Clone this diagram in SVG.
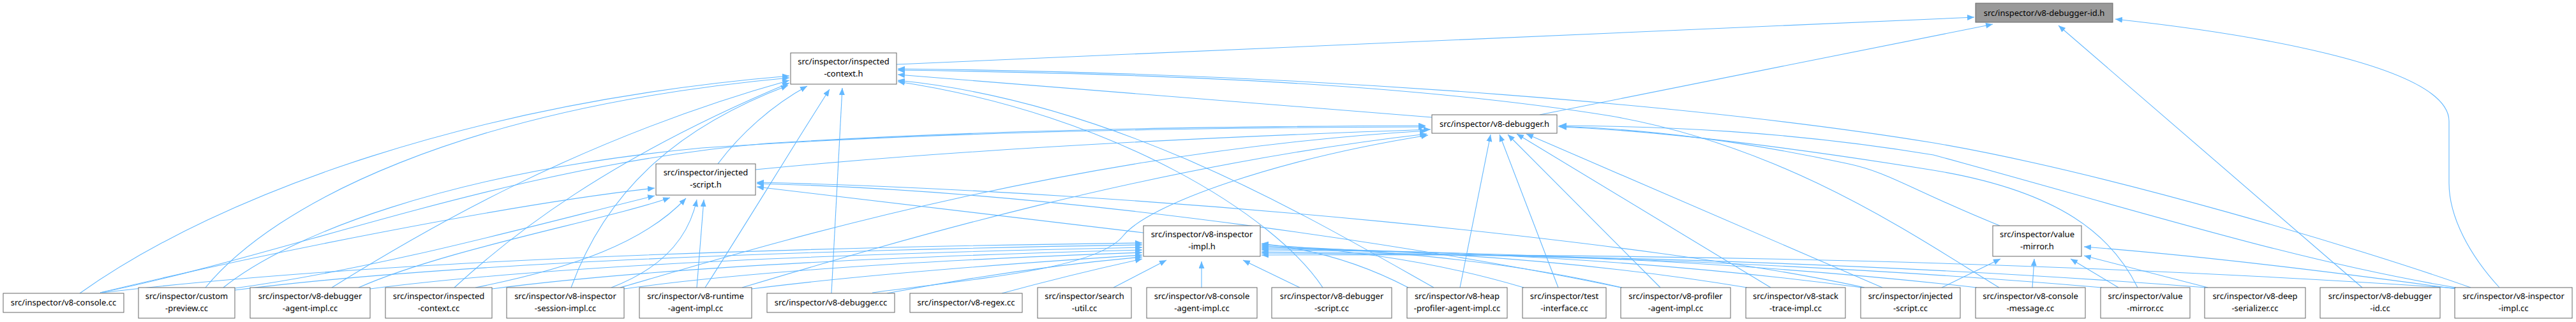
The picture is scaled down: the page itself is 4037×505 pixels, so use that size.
<svg xmlns="http://www.w3.org/2000/svg" width="4037" height="505" viewBox="0 0 4037 505">
<defs>
<marker id="a" markerWidth="12" markerHeight="10" refX="11" refY="4.5" orient="auto" markerUnits="userSpaceOnUse"><path d="M0,0 L11,4.5 L0,9 z" fill="#63b8ff"/></marker>
<style>
.n rect{fill:#fff;stroke:#666;stroke-width:1}
.n.root rect{fill:#999}
.n text{font-family:"Noto Sans","Open Sans",sans-serif;font-size:13px;text-anchor:middle;fill:#000}
.e path{fill:none;stroke:#63b8ff;stroke-width:1.1;marker-end:url(#a)}
</style>
</defs>
<rect width="4037" height="505" fill="#fff"/>
<g id="edges" class="e">
<path d="M1405,101 L3094,27"/>
<path d="M2413,180 L3123,38"/>
<path d="M3702,451 L3226,40"/>
<path d="M3917,451 C3870,400 3838,340 3838,287 L3838,190 C3838,100 3500,50 3315,30"/>
<path d="M2244,184 L1407,117"/>
<path d="M1125,257 C1160,210 1210,165 1265,135"/>
<path d="M1184,266 Q1600,225 2242,203"/>
<path d="M1792,365 L1186,293"/>
<path d="M3134,354 C3000,300 2960,270 2897,257 C2750,225 2600,203 2442,198"/>
<path d="M125,460 C350,300 750,160 1237,119"/>
<path d="M157,459 C450,400 800,260 1200,225 C1600,200 2000,198 2234,197"/>
<path d="M160,459 Q700,395 1790,381"/>
<path d="M157,459 C400,400 800,320 1026,295"/>
<path d="M322,451 C430,320 720,170 1237,122"/>
<path d="M350,451 C450,370 700,270 1100,232 C1500,205 1900,200 2234,199"/>
<path d="M368,452 C600,420 850,350 1026,307"/>
<path d="M368,455 Q800,400 1790,384"/>
<path d="M520,451 C650,370 900,220 1237,126"/>
<path d="M562,451 C700,390 950,345 1050,310"/>
<path d="M580,453 Q950,405 1790,388"/>
<path d="M712,451 C800,370 950,250 1237,130"/>
<path d="M745,451 C900,420 1010,380 1075,311"/>
<path d="M771,453 Q1100,410 1790,392"/>
<path d="M895,451 C950,300 1060,200 1235,134"/>
<path d="M958,451 C1040,420 1080,370 1092,313"/>
<path d="M972,451 C1150,400 1650,240 2236,205"/>
<path d="M978,453 Q1250,415 1790,396"/>
<path d="M1092,451 L1103,313"/>
<path d="M1105,451 C1170,350 1230,250 1300,140"/>
<path d="M1163,451 C1400,380 1800,260 2236,210"/>
<path d="M1178,453 Q1400,425 1790,400"/>
<path d="M1303,460 L1320,138"/>
<path d="M1367,459 C1550,435 1720,420 1760,370 C1800,320 2000,250 2238,212"/>
<path d="M1390,460 Q1600,420 1790,403"/>
<path d="M1570,460 Q1680,430 1790,406"/>
<path d="M1745,451 L1828,408"/>
<path d="M1883,451 L1883,410"/>
<path d="M2037,451 L1948,408"/>
<path d="M2073,451 C2000,340 1750,180 1407,128"/>
<path d="M2247,451 C2050,340 1750,160 1407,126"/>
<path d="M2288,451 L2336,211"/>
<path d="M2207,451 Q2100,395 1977,382"/>
<path d="M2442,451 L2350,211"/>
<path d="M2388,451 Q2200,395 1977,384"/>
<path d="M2602,451 L2363,211"/>
<path d="M2542,451 Q2300,395 1977,386"/>
<path d="M2540,451 C2300,400 1700,300 1186,288"/>
<path d="M2775,451 L2377,210"/>
<path d="M2738,451 Q2400,395 1977,388"/>
<path d="M2918,451 Q2500,395 1977,390"/>
<path d="M2922,451 C2600,380 1800,300 1186,286"/>
<path d="M2950,451 L2392,210"/>
<path d="M3043,451 L3135,406"/>
<path d="M3133,451 C3000,370 2800,230 2525,182 C2200,130 1800,115 1407,110"/>
<path d="M3098,451 Q2600,395 1977,392"/>
<path d="M3185,451 L3188,406"/>
<path d="M3350,451 C3310,370 3230,300 3030,267 C2800,230 2600,205 2444,199"/>
<path d="M3294,451 Q2700,400 1977,395"/>
<path d="M3320,451 L3245,406"/>
<path d="M3457,451 Q2800,400 1977,397"/>
<path d="M3460,451 L3266,401"/>
<path d="M3872,451 C3700,390 3300,270 3030,224 C2700,170 2100,115 1407,108"/>
<path d="M3849,451 C3600,410 3350,330 3030,243 C2800,205 2600,198 2444,197"/>
<path d="M3849,452 Q3000,395 1977,400"/>
<path d="M3849,453 Q3500,405 3266,387"/>
</g>
<g id="n0" class="n root"><rect x="3096" y="5" width="215" height="30"/><text x="3203.5" y="25">src/inspector/v8-debugger-id.h</text></g>
<g id="n1" class="n"><rect x="1239" y="83" width="166" height="49"/><text x="1322" y="101">src/inspector/inspected</text><text x="1322" y="120">-context.h</text></g>
<g id="n2" class="n"><rect x="2244" y="180" width="196" height="29"/><text x="2342" y="199">src/inspector/v8-debugger.h</text></g>
<g id="n3" class="n"><rect x="1028" y="257" width="156" height="49"/><text x="1106" y="275">src/inspector/injected</text><text x="1106" y="294">-script.h</text></g>
<g id="n4" class="n"><rect x="1792" y="354" width="183" height="48"/><text x="1883.5" y="372">src/inspector/v8-inspector</text><text x="1883.5" y="391">-impl.h</text></g>
<g id="n5" class="n"><rect x="3123" y="354" width="139" height="48"/><text x="3192.5" y="372">src/inspector/value</text><text x="3192.5" y="391">-mirror.h</text></g>
<g id="n6" class="n"><rect x="5" y="460" width="189" height="30"/><text x="99.5" y="479">src/inspector/v8-console.cc</text></g>
<g id="n7" class="n"><rect x="217" y="451" width="151" height="48"/><text x="292.5" y="469">src/inspector/custom</text><text x="292.5" y="488">-preview.cc</text></g>
<g id="n8" class="n"><rect x="392" y="451" width="188" height="48"/><text x="486" y="469">src/inspector/v8-debugger</text><text x="486" y="488">-agent-impl.cc</text></g>
<g id="n9" class="n"><rect x="604" y="451" width="167" height="48"/><text x="687.5" y="469">src/inspector/inspected</text><text x="687.5" y="488">-context.cc</text></g>
<g id="n10" class="n"><rect x="794" y="451" width="184" height="48"/><text x="886" y="469">src/inspector/v8-inspector</text><text x="886" y="488">-session-impl.cc</text></g>
<g id="n11" class="n"><rect x="1002" y="451" width="176" height="48"/><text x="1090" y="469">src/inspector/v8-runtime</text><text x="1090" y="488">-agent-impl.cc</text></g>
<g id="n12" class="n"><rect x="1202" y="460" width="200" height="30"/><text x="1302" y="479">src/inspector/v8-debugger.cc</text></g>
<g id="n13" class="n"><rect x="1426" y="460" width="176" height="30"/><text x="1514" y="479">src/inspector/v8-regex.cc</text></g>
<g id="n14" class="n"><rect x="1626" y="451" width="147" height="48"/><text x="1699.5" y="469">src/inspector/search</text><text x="1699.5" y="488">-util.cc</text></g>
<g id="n15" class="n"><rect x="1797" y="451" width="173" height="48"/><text x="1883.5" y="469">src/inspector/v8-console</text><text x="1883.5" y="488">-agent-impl.cc</text></g>
<g id="n16" class="n"><rect x="1993" y="451" width="188" height="48"/><text x="2087" y="469">src/inspector/v8-debugger</text><text x="2087" y="488">-script.cc</text></g>
<g id="n17" class="n"><rect x="2205" y="451" width="157" height="48"/><text x="2283.5" y="469">src/inspector/v8-heap</text><text x="2283.5" y="488">-profiler-agent-impl.cc</text></g>
<g id="n18" class="n"><rect x="2386" y="451" width="131" height="48"/><text x="2451.5" y="469">src/inspector/test</text><text x="2451.5" y="488">-interface.cc</text></g>
<g id="n19" class="n"><rect x="2540" y="451" width="172" height="48"/><text x="2626" y="469">src/inspector/v8-profiler</text><text x="2626" y="488">-agent-impl.cc</text></g>
<g id="n20" class="n"><rect x="2736" y="451" width="156" height="48"/><text x="2814" y="469">src/inspector/v8-stack</text><text x="2814" y="488">-trace-impl.cc</text></g>
<g id="n21" class="n"><rect x="2916" y="451" width="156" height="48"/><text x="2994" y="469">src/inspector/injected</text><text x="2994" y="488">-script.cc</text></g>
<g id="n22" class="n"><rect x="3096" y="451" width="172" height="48"/><text x="3182" y="469">src/inspector/v8-console</text><text x="3182" y="488">-message.cc</text></g>
<g id="n23" class="n"><rect x="3292" y="451" width="140" height="48"/><text x="3362" y="469">src/inspector/value</text><text x="3362" y="488">-mirror.cc</text></g>
<g id="n24" class="n"><rect x="3455" y="451" width="158" height="48"/><text x="3534" y="469">src/inspector/v8-deep</text><text x="3534" y="488">-serializer.cc</text></g>
<g id="n25" class="n"><rect x="3636" y="451" width="188" height="48"/><text x="3730" y="469">src/inspector/v8-debugger</text><text x="3730" y="488">-id.cc</text></g>
<g id="n26" class="n"><rect x="3847" y="451" width="184" height="48"/><text x="3939" y="469">src/inspector/v8-inspector</text><text x="3939" y="488">-impl.cc</text></g>
</svg>
